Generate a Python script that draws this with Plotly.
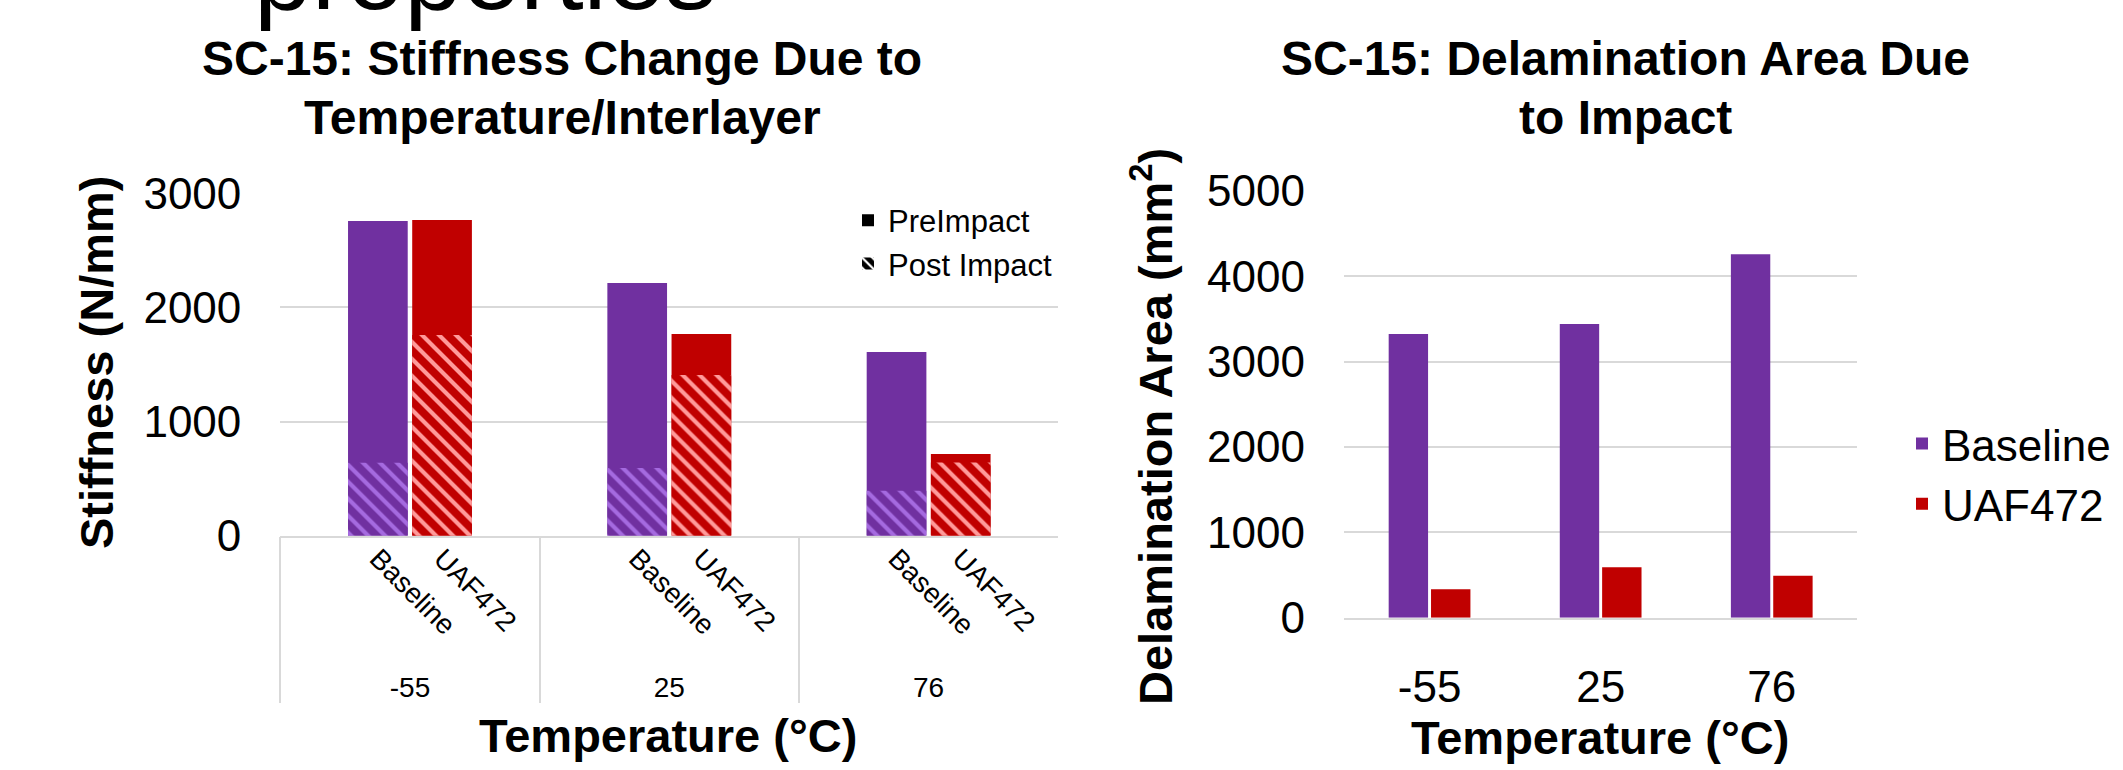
import plotly.graph_objects as go

# ---- data -------------------------------------------------------------
temperatures = ["-55", "25", "76"]
materials = ["Baseline", "UAF472"]

stiffness_pre_baseline = [2757, 2214, 1610]
stiffness_pre_uaf472 = [2766, 1767, 716]
stiffness_post_baseline = [640, 593, 394]
stiffness_post_uaf472 = [1758, 1408, 641]

delam_baseline = [3323, 3441, 4258]
delam_uaf472 = [333, 591, 492]

stiffness_ticks = [0, 1000, 2000, 3000]
delam_ticks = [0, 1000, 2000, 3000, 4000, 5000]

# ---- styling ----------------------------------------------------------
W, H = 2123, 770
PURPLE, RED = "#7030a0", "#c00000"
PURPLE_STRIPE, RED_STRIPE = "#a56ae0", "#ff9a9a"
GRID = "#d9d9d9"
FONT = "Arial, Liberation Sans, sans-serif"
BARGAP, BARGROUPGAP = 0.505, 0.07


def px(x):
    return x / W


def py(y):
    return 1 - y / H


def hatch(base, stripe):
    return dict(shape="\\", bgcolor=base, fgcolor=stripe, size=12, solidity=0.35)


fig = go.Figure()

# Stiffness: solid pre-impact bars, hatched post-impact bars drawn over them
fig.add_trace(go.Bar(x=temperatures, y=stiffness_pre_baseline, marker=dict(color=PURPLE, line_width=0),
                     offsetgroup="baseline", showlegend=False, xaxis="x", yaxis="y"))
fig.add_trace(go.Bar(x=temperatures, y=stiffness_pre_uaf472, marker=dict(color=RED, line_width=0),
                     offsetgroup="uaf472", showlegend=False, xaxis="x", yaxis="y"))
fig.add_trace(go.Bar(x=temperatures, y=stiffness_post_baseline,
                     marker=dict(color=PURPLE, line_width=0, pattern=hatch(PURPLE, PURPLE_STRIPE)),
                     offsetgroup="baseline", showlegend=False, xaxis="x", yaxis="y"))
fig.add_trace(go.Bar(x=temperatures, y=stiffness_post_uaf472,
                     marker=dict(color=RED, line_width=0, pattern=hatch(RED, RED_STRIPE)),
                     offsetgroup="uaf472", showlegend=False, xaxis="x", yaxis="y"))

# legend keys for the stiffness chart (neutral black swatches, zero-height, off-range)
fig.add_trace(go.Bar(x=[-1], y=[0], name="PreImpact", marker=dict(color="black", line_width=0),
                     xaxis="x3", yaxis="y", legend="legend", hoverinfo="skip"))
fig.add_trace(go.Bar(x=[-1], y=[0], name="Post Impact",
                     marker=dict(color="black", line_width=0,
                                 pattern=dict(shape="\\", bgcolor="black", fgcolor="white",
                                              size=9, solidity=0.3)),
                     xaxis="x3", yaxis="y", legend="legend", hoverinfo="skip"))

# Delamination area
fig.add_trace(go.Bar(x=temperatures, y=delam_baseline, name="Baseline", marker=dict(color=PURPLE, line_width=0),
                     xaxis="x2", yaxis="y2", legend="legend2"))
fig.add_trace(go.Bar(x=temperatures, y=delam_uaf472, name="UAF472", marker=dict(color=RED, line_width=0),
                     xaxis="x2", yaxis="y2", legend="legend2"))

# positions of the per-bar material labels under the stiffness chart
slot = (1 - BARGAP) / 2
label_positions = [i + (j - 0.5) * slot for i in range(len(temperatures)) for j in range(len(materials))]
label_text = [m for _ in temperatures for m in materials]

title_font = dict(family=FONT, size=48, color="black")
axis_title_font = dict(family=FONT, size=47, color="black")

annotations = [
    dict(text="properties", x=px(252), y=py(-87), xanchor="left", yanchor="top",
         font=dict(family=FONT, size=104, color="black")),
    dict(text="<b>SC-15: Stiffness Change Due to</b>", x=px(562), y=py(58.5), font=title_font),
    dict(text="<b>Temperature/Interlayer</b>", x=px(562), y=py(117.5), font=title_font),
    dict(text="<b>SC-15: Delamination Area Due</b>", x=px(1625), y=py(58.5), font=title_font),
    dict(text="<b>to Impact</b>", x=px(1625), y=py(117.5), font=title_font),
    dict(text="<b>Stiffness (N/mm)</b>", x=px(96), y=py(363), textangle=-90, font=axis_title_font),
    dict(text="<b>Delamination Area (mm<sup>2</sup>)</b>", x=px(1152), y=py(427), textangle=-90,
         font=axis_title_font),
    dict(text="<b>Temperature (°C)</b>", x=px(668), y=py(735), font=axis_title_font),
    dict(text="<b>Temperature (°C)</b>", x=px(1600), y=py(737), font=axis_title_font),
]
for a in annotations:
    a.update(xref="paper", yref="paper", showarrow=False)
    a.setdefault("xanchor", "center")
    a.setdefault("yanchor", "middle")

fig.update_layout(
    width=W, height=H, template="none",
    margin=dict(l=0, r=0, t=0, b=0),
    paper_bgcolor="white", plot_bgcolor="white",
    font=dict(family=FONT, color="black"),
    barmode="group", bargap=BARGAP, bargroupgap=BARGROUPGAP,
    xaxis=dict(domain=[px(280.3), px(1058.3)], anchor="y", type="category", range=[-0.5, 2.5],
               showgrid=False, zeroline=False, showline=True, linecolor=GRID, linewidth=1.5,
               ticks="outside", tickson="boundaries", ticklen=166, tickcolor=GRID, tickwidth=1.5,
               tickfont=dict(size=28), ticklabelstandoff=126),
    xaxis3=dict(overlaying="x", anchor="y", type="linear", range=[-0.5, 2.5],
                tickmode="array", tickvals=label_positions, ticktext=label_text, tickangle=45,
                tickfont=dict(size=28), showgrid=False, zeroline=False, showline=False, ticks=""),
    yaxis=dict(domain=[py(535.7), py(193.3)], anchor="x", range=[0, 3000], tickmode="array",
               tickvals=stiffness_ticks, showgrid=True, gridcolor=GRID, gridwidth=1.5,
               zeroline=False, showline=False, ticks="", tickfont=dict(size=44), ticklabelstandoff=38),
    xaxis2=dict(domain=[px(1344), px(1857.3)], anchor="y2", type="category", range=[-0.5, 2.5],
                showgrid=False, zeroline=False, showline=True, linecolor=GRID, linewidth=1.5,
                ticks="", tickfont=dict(size=44), ticklabelstandoff=30),
    yaxis2=dict(domain=[py(617.7), py(191)], anchor="x2", range=[0, 5000], tickmode="array",
                tickvals=delam_ticks, showgrid=True, gridcolor=GRID, gridwidth=1.5,
                zeroline=False, showline=False, ticks="", tickfont=dict(size=44), ticklabelstandoff=38),
    legend=dict(x=px(848), y=py(242), xanchor="left", yanchor="middle", bgcolor="rgba(0,0,0,0)",
                font=dict(size=31), traceorder="normal"),
    legend2=dict(x=px(1902), y=py(474), xanchor="left", yanchor="middle", bgcolor="rgba(0,0,0,0)",
                 font=dict(size=44), traceorder="normal"),
    annotations=annotations,
)

fig.write_html("out.html")
